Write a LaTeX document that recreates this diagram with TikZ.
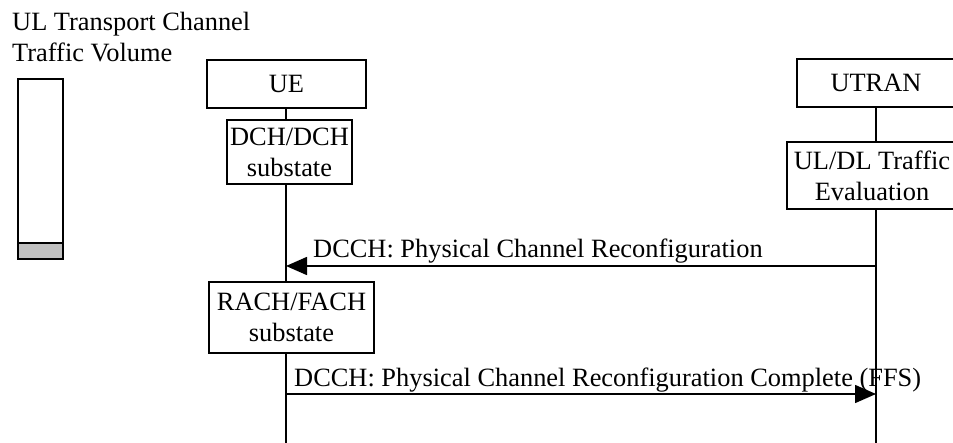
\documentclass[tikz,border=0pt]{standalone}
\usepackage{fontspec}
\setmainfont{Liberation Serif}
\usetikzlibrary{arrows.meta}
\begin{document}
\begin{tikzpicture}[x=1pt,y=-1pt,
  every node/.style={font=\fontsize{26.4}{31}\selectfont, inner sep=0pt},
  box/.style={draw, line width=1.6pt, align=center, fill=white},
  line/.style={line width=1.6pt},
  msg/.style={line width=1.6pt, -{Triangle[length=21pt,width=18pt]}},
  lbl/.style={anchor=base west}
]
\useasboundingbox (0,0) rectangle (953,443);
% title
\node[anchor=north west, align=left] (title) at (12,11.5) {UL Transport Channel\\Traffic Volume};
% volume bar
\node[draw, line width=1.6pt, minimum width=44.5pt, minimum height=180pt] (vol) at (40.5,169) {};
\node[draw, line width=1.6pt, fill={rgb,255:red,192;green,192;blue,192}, minimum width=44.5pt, minimum height=16pt] (volfill) at (40.5,251) {};
% UE side
\node[box, minimum width=159pt, minimum height=48pt] (ue) at (286.5,84) {UE};
\node[box, minimum width=125pt, minimum height=64pt] (dch) at (289.5,152) {DCH/DCH\\substate};
\node[box, minimum width=165pt, minimum height=71pt] (rach) at (291.5,317.5) {RACH/FACH\\substate};
% UTRAN side
\node[box, minimum width=158pt, minimum height=48pt] (utran) at (876,83) {UTRAN};
\node[box, minimum width=170pt, minimum height=67pt] (eval) at (872,175.5) {UL/DL Traffic\\Evaluation};
% lifeline coordinates
\coordinate (uetop) at (286,108);
\coordinate (uebot) at (286,443);
\coordinate (uttop) at (876,107);
\coordinate (utbot) at (876,443);
\coordinate (m1s) at (876,266);
\coordinate (m1e) at (286,266);
\coordinate (m2s) at (286,394);
\coordinate (m2e) at (876,394);
% lifelines
\draw[line] (uetop) -- (uetop |- dch.north);
\draw[line] (uetop |- dch.south) -- (uetop |- rach.north);
\draw[line] (uetop |- rach.south) -- (uebot);
\draw[line] (uttop) -- (uttop |- eval.north);
\draw[line] (uttop |- eval.south) -- (utbot);
% messages
\draw[msg] (m1s) -- (m1e);
\node[lbl] (l1) at (313,258) {DCCH: Physical Channel Reconfiguration};
\draw[msg] (m2s) -- (m2e);
\node[lbl] (l2) at (294,387) {DCCH: Physical Channel Reconfiguration Complete (FFS)};
\end{tikzpicture}
\end{document}
